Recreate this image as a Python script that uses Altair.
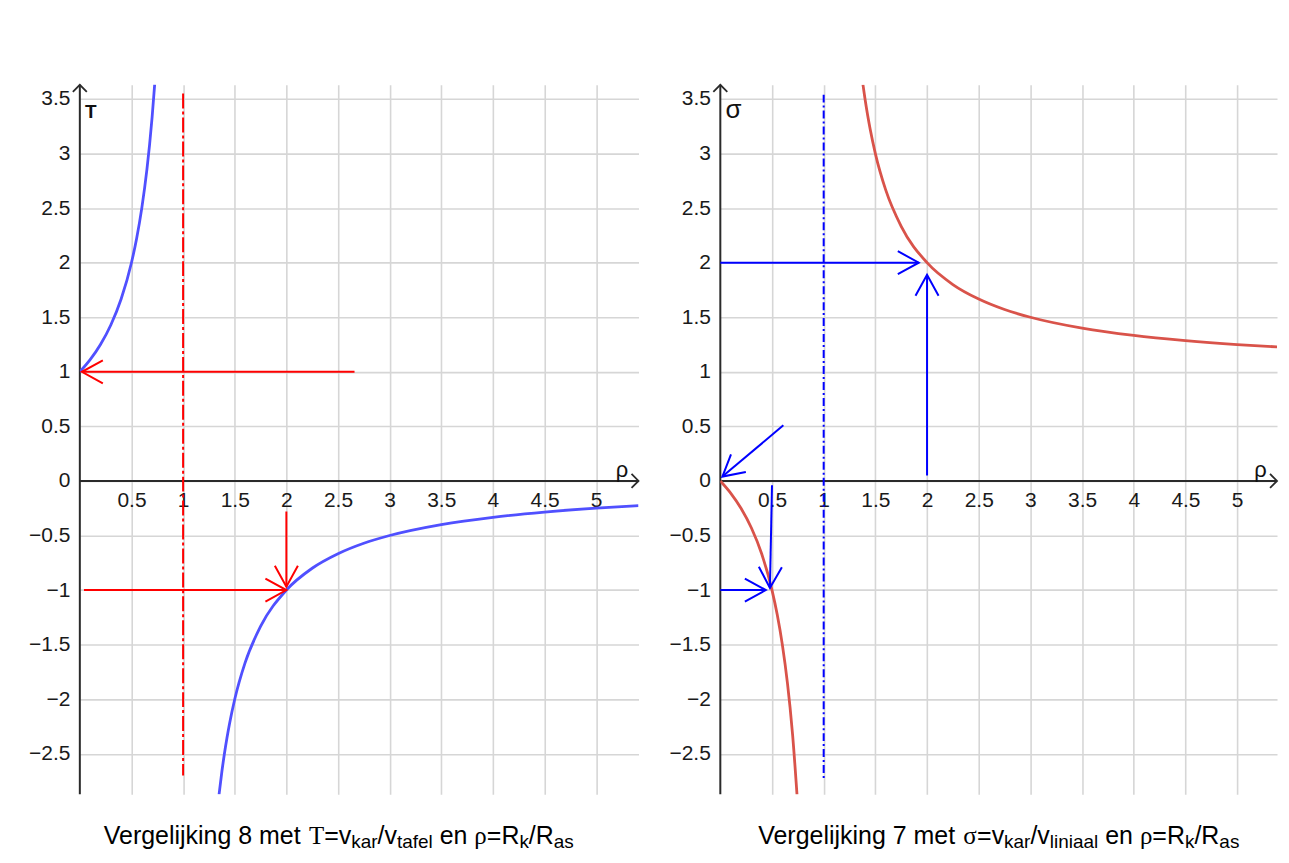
import math
import altair as alt
import pandas as pd

SANS = "Liberation Sans, Arial, Helvetica, sans-serif"
SERIF = "Liberation Serif, Times New Roman, serif"

# ---------------- geometry of the two plot areas ----------------
W_LEFT, W_RIGHT, H = 560, 558, 711
X_MAX_LEFT, X_MAX_RIGHT = 5.41, 5.386
Y_MIN, Y_MAX = -2.87, 3.63

x_ticks = [0.5, 1, 1.5, 2, 2.5, 3, 3.5, 4, 4.5, 5]
y_ticks = [-2.5, -2, -1.5, -1, -0.5, 0, 0.5, 1, 1.5, 2, 2.5, 3, 3.5]

# ---------------- left panel: tau(rho) ----------------
tau_rho_1 = [0.0, 0.1, 0.2, 0.3, 0.4, 0.5, 0.55, 0.6, 0.65, 0.675, 0.7, 0.725]
tau_val_1 = [1.0, 1.111, 1.25, 1.429, 1.667, 2.0, 2.222, 2.5, 2.857, 3.077, 3.333, 3.636]
tau_rho_2 = [1.348, 1.375, 1.4, 1.425, 1.45, 1.5, 1.6, 1.75, 2.0, 2.25, 2.5, 2.75,
             3.0, 3.5, 4.0, 4.5, 5.0, 5.41]
tau_val_2 = [-2.874, -2.667, -2.5, -2.353, -2.222, -2.0, -1.667, -1.333, -1.0, -0.8, -0.667,
             -0.571, -0.5, -0.4, -0.333, -0.286, -0.25, -0.227]

# red arrows (start x, start y, tip x, tip y)
red_arrows = [
    (2.66, 1.0, 0.02, 1.0),
    (0.04, -1.0, 2.0, -1.0),
    (2.0, -0.28, 2.0, -0.97),
]
red_dash = (1.0, 3.55, -2.70)

# ---------------- right panel: sigma(rho) ----------------
sig_rho_1 = [0.0, 0.1, 0.2, 0.3, 0.4, 0.5, 0.55, 0.6, 0.65, 0.675, 0.7, 0.742]
sig_val_1 = [0.0, -0.111, -0.25, -0.429, -0.667, -1.0, -1.222, -1.5, -1.857, -2.077,
             -2.333, -2.876]
sig_rho_2 = [1.38, 1.4, 1.425, 1.45, 1.5, 1.6, 1.75, 2.0, 2.25, 2.5, 2.75, 3.0, 3.5,
             4.0, 4.5, 5.0, 5.386]
sig_val_2 = [3.632, 3.5, 3.353, 3.222, 3.0, 2.667, 2.333, 2.0, 1.8, 1.667, 1.571, 1.5, 1.4,
             1.333, 1.286, 1.25, 1.228]

blue_arrows = [
    (0.0, 2.0, 1.92, 2.0),
    (2.0, 0.05, 2.0, 1.89),
    (0.61, 0.51, 0.02, 0.04),
    (0.50, -0.04, 0.48, -0.98),
    (0.0, -1.0, 0.44, -1.0),
]
blue_dash = (1.0, 3.54, -2.74)

# ---------------- titles (runs: text, kind) ----------------
title_left = [("Vergelijking 8 met ", "main"), ("Τ", "greek"), ("=v", "main"), ("kar", "sub"),
              ("/v", "main"), ("tafel", "sub"), (" en ", "main"), ("ρ", "greek"),
              ("=R", "main"), ("k", "sub"), ("/R", "main"), ("as", "sub")]
title_right = [("Vergelijking 7 met ", "main"), ("σ", "greek"), ("=v", "main"), ("kar", "sub"),
               ("/v", "main"), ("liniaal", "sub"), (" en ", "main"), ("ρ", "greek"),
               ("=R", "main"), ("k", "sub"), ("/R", "main"), ("as", "sub")]

ARIAL_W = {' ': 278, 'V': 667, 'e': 556, 'r': 333, 'g': 556, 'l': 222, 'i': 222, 'j': 222,
           'k': 500, 'n': 556, '7': 556, '8': 556, 'm': 833, 't': 278, '=': 584, 'v': 500,
           '/': 278, 'a': 556, 'f': 278, 'R': 722, 's': 500}
SERIF_W = {'Τ': 611, 'ρ': 500, 'σ': 549}
KIND = {"main": (25, SANS, 0), "sub": (19, SANS, 4), "greek": (25, SERIF, 0)}

CHEVRON = "M-1,-0.55L0,0L-1,0.55"
AXIS_CHEVRON = "M-1,-1L0,0L-1,1"


def enc_xy(xmax):
    common = dict(labelFont=SANS, labelFontSize=21, labelColor="#1a1a1a", grid=True,
                  gridColor="#d6d6d6", gridWidth=1.6, domain=False, ticks=False,
                  tickSize=0, title=None, labelFlush=False, labelOverlap=False)
    ky = H / (Y_MAX - Y_MIN)
    xa = alt.Axis(values=x_ticks, orient="bottom", offset=-(0 - Y_MIN) * ky,
                  labelPadding=9, labelExpr="'' + datum.value", **common)
    ya = alt.Axis(values=y_ticks, orient="left", labelPadding=10,
                  labelExpr="(datum.value < 0 ? '\u2212' : '') + abs(datum.value)", **common)
    return dict(
        x=alt.X("x:Q", scale=alt.Scale(domain=[0, xmax], nice=False, zero=False), axis=xa),
        y=alt.Y("y:Q", scale=alt.Scale(domain=[Y_MIN, Y_MAX], nice=False, zero=False), axis=ya),
    )


def arrow_angle(x1, y1, x2, y2, kx, ky):
    dx = (x2 - x1) * kx
    dy = -(y2 - y1) * ky
    return math.degrees(math.atan2(dy, dx)) % 360


def title_layers(runs, x0, baseline):
    layers = []
    x = x0
    for text, kind in runs:
        size, font, dy = KIND[kind]
        table = SERIF_W if kind == "greek" else ARIAL_W
        lead = len(text) - len(text.lstrip(" "))
        xs = x + lead * ARIAL_W[' '] * size / 1000.0
        width = sum(table.get(c, 556) for c in text) * size / 1000.0
        layers.append(
            alt.Chart(pd.DataFrame({"t": [text.strip(" ")]}))
            .mark_text(align="left", baseline="alphabetic", font=font, fontSize=size, color="#000")
            .encode(x=alt.value(xs), y=alt.value(baseline + dy), text="t:N")
        )
        x += width
    return layers


def panel(width, xmax, curves, arrows, dash, line_color, arrow_color, dash_pattern,
          axis_sym, axis_sym_size, axis_sym_bold, title_runs, title_x0):
    kx = width / xmax
    ky = H / (Y_MAX - Y_MIN)

    axes_df = pd.DataFrame({"x": [0.0, 0.0], "y": [Y_MIN, 0.0], "x2": [0.0, xmax], "y2": [Y_MAX, 0.0]})
    axis_lines = alt.Chart(axes_df).mark_rule(color="#2a2a2a", strokeWidth=2).encode(
        **enc_xy(xmax), x2="x2:Q", y2="y2:Q")

    axhead_df = pd.DataFrame({"x": [0.0, xmax], "y": [Y_MAX, 0.0], "a": [270, 0]})
    axis_heads = alt.Chart(axhead_df).mark_point(
        shape=AXIS_CHEVRON, filled=False, size=196, strokeWidth=1.8, color="#2a2a2a", opacity=1
    ).encode(**enc_xy(xmax), angle=alt.Angle("a:Q", scale=None))

    rows = []
    for b, (xs, ys) in enumerate(curves):
        for xv, yv in zip(xs, ys):
            rows.append({"x": xv, "y": yv, "b": b})
    curve = alt.Chart(pd.DataFrame(rows)).mark_line(
        color=line_color, strokeWidth=2.8, interpolate="monotone", clip=True
    ).encode(**enc_xy(xmax), detail="b:N")

    dash_df = pd.DataFrame({"x": [dash[0]], "y": [dash[1]], "y2": [dash[2]]})
    dashed = alt.Chart(dash_df).mark_rule(
        color=arrow_color, strokeWidth=2, strokeDash=dash_pattern
    ).encode(**enc_xy(xmax), y2="y2:Q")

    arr_df = pd.DataFrame([{"x": a[0], "y": a[1], "x2": a[2], "y2": a[3]} for a in arrows])
    shafts = alt.Chart(arr_df).mark_rule(color=arrow_color, strokeWidth=2).encode(
        **enc_xy(xmax), x2="x2:Q", y2="y2:Q")

    head_df = pd.DataFrame([{"x": a[2], "y": a[3],
                             "a": arrow_angle(a[0], a[1], a[2], a[3], kx, ky)} for a in arrows])
    heads = alt.Chart(head_df).mark_point(
        shape=CHEVRON, filled=False, size=1764, strokeWidth=2, color=arrow_color, opacity=1
    ).encode(**enc_xy(xmax), angle=alt.Angle("a:Q", scale=None))

    sym_df = pd.DataFrame({"x": [0.05], "y": [3.33], "t": [axis_sym]})
    sym = alt.Chart(sym_df).mark_text(
        align="left", baseline="alphabetic", font=SANS, fontSize=axis_sym_size,
        fontWeight="bold" if axis_sym_bold else "normal", color="#111"
    ).encode(**enc_xy(xmax), text="t:N")

    rho_df = pd.DataFrame({"x": [xmax - 0.22], "y": [0.04], "t": ["ρ"]})
    rho = alt.Chart(rho_df).mark_text(
        align="left", baseline="alphabetic", font=SANS, fontSize=22, color="#111"
    ).encode(**enc_xy(xmax), text="t:N")

    layers = [axis_lines, curve, dashed, shafts, heads, axis_heads, sym, rho]
    layers += title_layers(title_runs, title_x0, 761)
    return alt.layer(*layers).properties(width=width, height=H)


left = panel(W_LEFT, X_MAX_LEFT, [(tau_rho_1, tau_val_1), (tau_rho_2, tau_val_2)],
             red_arrows, red_dash, "#5050ff", "#ff0000", [15, 3, 3, 3],
             "Τ", 19, True, title_left, 24)
right = panel(W_RIGHT, X_MAX_RIGHT, [(sig_rho_1, sig_val_1), (sig_rho_2, sig_val_2)],
              blue_arrows, blue_dash, "#d9534a", "#0000ff", [8, 3, 2, 3],
              "σ", 26, False, title_right, 38)

chart = alt.hconcat(left, right, spacing=82, bounds="flush").properties(
    padding={"left": 20, "top": 72, "right": 0, "bottom": 2},
    background="white",
).configure_view(stroke=None)

chart.save("out.html", embed_options={"renderer": "svg", "actions": False})
